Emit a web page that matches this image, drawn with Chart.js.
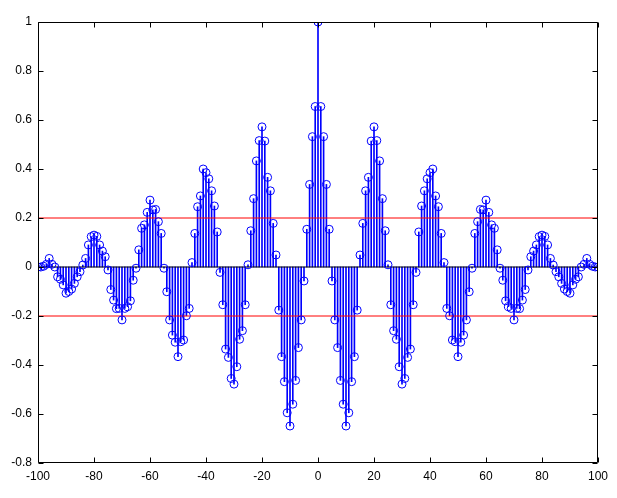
<!DOCTYPE html>
<html>
<head>
<meta charset="utf-8">
<script src="https://cdn.jsdelivr.net/npm/chart.js@4/dist/chart.umd.min.js"></script>
<style>
  body { margin: 0; background: #fff; }
  canvas { display: block; }
</style>
</head>
<body>
<canvas id="stem-chart" width="617" height="498"></canvas>
<script>
// lags -100 .. 100
var lags = [];
for (var i = -100; i <= 100; i++) lags.push(i);

// stem heights (lag -100 first)
var valori = [
  0.000, 0.000, 0.003, 0.011, 0.035, 0.011, 0.000, -0.040, -0.050, -0.073,
  -0.107, -0.100, -0.090, -0.067, -0.040, -0.019, 0.008, 0.035, 0.090, 0.124,
  0.130, 0.125, 0.090, 0.065, 0.042, -0.012, -0.092, -0.135, -0.170, -0.169,
  -0.216, -0.169, -0.162, -0.138, -0.054, -0.005, 0.070, 0.158, 0.172, 0.223,
  0.273, 0.233, 0.235, 0.185, 0.137, -0.005, -0.101, -0.216, -0.278, -0.307,
  -0.366, -0.305, -0.298, -0.199, -0.169, 0.018, 0.137, 0.246, 0.290, 0.400,
  0.385, 0.360, 0.311, 0.249, 0.143, -0.022, -0.154, -0.335, -0.369, -0.455,
  -0.478, -0.407, -0.295, -0.260, -0.154, 0.009, 0.148, 0.279, 0.433, 0.516,
  0.572, 0.514, 0.366, 0.311, 0.178, 0.049, -0.176, -0.366, -0.468, -0.595,
  -0.649, -0.560, -0.463, -0.329, -0.216, -0.057, 0.154, 0.337, 0.532, 0.655,
  1.000,
  0.655, 0.532, 0.337, 0.154, -0.057, -0.216, -0.329, -0.463, -0.560, -0.649,
  -0.595, -0.468, -0.366, -0.176, 0.049, 0.178, 0.311, 0.366, 0.514, 0.572,
  0.516, 0.433, 0.279, 0.148, 0.009, -0.154, -0.260, -0.295, -0.407, -0.478,
  -0.455, -0.369, -0.335, -0.154, -0.022, 0.143, 0.249, 0.311, 0.360, 0.385,
  0.400, 0.290, 0.246, 0.137, 0.018, -0.169, -0.199, -0.298, -0.305, -0.366,
  -0.307, -0.278, -0.216, -0.101, -0.005, 0.137, 0.185, 0.235, 0.233, 0.273,
  0.223, 0.172, 0.158, 0.070, -0.005, -0.054, -0.138, -0.162, -0.169, -0.216,
  -0.169, -0.170, -0.135, -0.092, -0.012, 0.042, 0.065, 0.090, 0.124, 0.130,
  0.125, 0.090, 0.035, 0.008, -0.019, -0.040, -0.067, -0.090, -0.100, -0.107,
  -0.073, -0.050, -0.040, 0.000, 0.011, 0.035, 0.011, 0.003, 0.000, 0.000
];

// red threshold lines
var soglie = [0.2, -0.2];
var xTicks = [-100, -80, -60, -40, -20, 0, 20, 40, 60, 80, 100];
var yTicks = [-0.8, -0.6, -0.4, -0.2, 0, 0.2, 0.4, 0.6, 0.8, 1];

var punti = lags.map(function (x, k) { return { x: x, y: valori[k] }; });

function lineaOrizzontale(v) {
  return [{ x: -100, y: v }, { x: 100, y: v }];
}

// box + inward tick marks, matlab style
var boxPlugin = {
  id: 'box',
  afterDraw: function (chart) {
    var ctx = chart.ctx;
    var a = chart.chartArea;
    var xs = chart.scales.x, ys = chart.scales.y;
    var L = Math.round(a.left) + 0.5, R = Math.round(a.right) - 0.5;
    var T = Math.round(a.top) + 0.5, B = Math.round(a.bottom) - 0.5;
    ctx.save();
    ctx.strokeStyle = '#000';
    ctx.lineWidth = 1;
    ctx.beginPath();
    ctx.rect(L, T, R - L, B - T);
    xTicks.forEach(function (t) {
      var px = Math.round(xs.getPixelForValue(t)) + 0.5;
      ctx.moveTo(px, B); ctx.lineTo(px, B - 5);
      ctx.moveTo(px, T); ctx.lineTo(px, T + 5);
    });
    yTicks.forEach(function (t) {
      var py = Math.round(ys.getPixelForValue(t)) + 0.5;
      ctx.moveTo(L, py); ctx.lineTo(L + 5, py);
      ctx.moveTo(R, py); ctx.lineTo(R - 5, py);
    });
    ctx.stroke();
    ctx.restore();
  }
};

Chart.defaults.font.family = "'Liberation Sans', Arial, sans-serif";
Chart.defaults.font.size = 12;
Chart.defaults.color = '#000';

var ctx = document.getElementById('stem-chart').getContext('2d');
var chart = new Chart(ctx, {
  type: 'scatter',
  data: {
    datasets: [
      {
        type: 'scatter',
        data: punti,
        pointStyle: 'circle',
        pointRadius: 4,
        pointBorderWidth: 1,
        pointBorderColor: '#0000ff',
        pointBackgroundColor: 'rgba(0,0,0,0)',
        order: 0
      },
      {
        type: 'line',
        data: lineaOrizzontale(soglie[0]),
        borderColor: '#ff0000',
        borderWidth: 1,
        pointRadius: 0,
        order: 1
      },
      {
        type: 'line',
        data: lineaOrizzontale(soglie[1]),
        borderColor: '#ff0000',
        borderWidth: 1,
        pointRadius: 0,
        order: 1
      },
      {
        type: 'line',
        data: lineaOrizzontale(0),
        borderColor: '#000000',
        borderWidth: 1,
        pointRadius: 0,
        order: 2
      },
      {
        type: 'bar',
        data: punti,
        backgroundColor: '#0000ff',
        borderWidth: 0,
        barThickness: 1,
        order: 3
      }
    ]
  },
  options: {
    responsive: false,
    animation: false,
    layout: { padding: { top: 22, right: 19, left: 0, bottom: 0 } },
    plugins: {
      legend: { display: false },
      tooltip: { enabled: false }
    },
    scales: {
      x: {
        type: 'linear',
        offset: false,
        min: -100,
        max: 100,
        afterBuildTicks: function (s) { s.ticks = xTicks.map(function (v) { return { value: v }; }); },
        afterFit: function (s) { s.height = 35; },
        grid: { display: false, drawTicks: false, offset: false },
        border: { display: false },
        ticks: { padding: 6, maxRotation: 0, autoSkip: false }
      },
      y: {
        type: 'linear',
        min: -0.8,
        max: 1,
        afterBuildTicks: function (s) { s.ticks = yTicks.map(function (v) { return { value: v }; }); },
        afterFit: function (s) { s.width = 38; },
        grid: { display: false, drawTicks: false },
        border: { display: false },
        ticks: {
          padding: 6,
          autoSkip: false,
          callback: function (v) { return String(Math.round(v * 10) / 10); }
        }
      }
    }
  },
  plugins: [boxPlugin]
});
</script>
</body>
</html>
